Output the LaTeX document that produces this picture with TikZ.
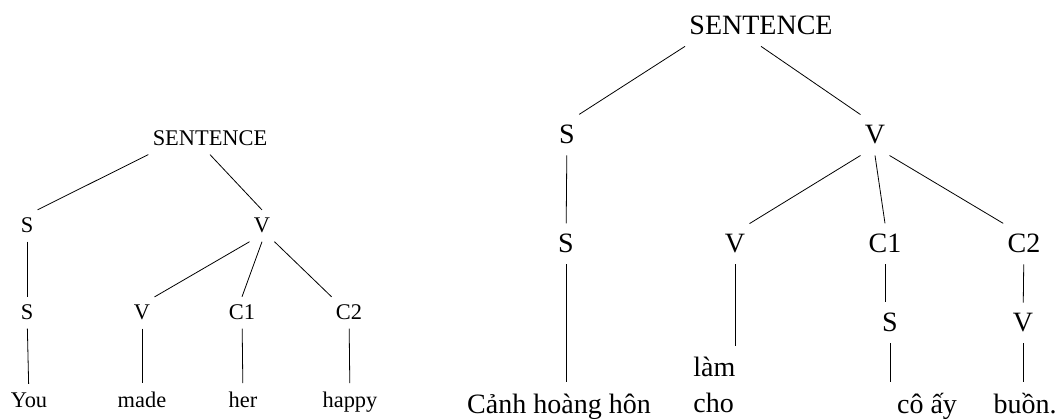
\documentclass[tikz,border=0pt]{standalone}
\usepackage{fontspec}
\setmainfont{Liberation Serif}
\begin{document}
\begin{tikzpicture}[x=0.75pt,y=-0.75pt,line width=0.6pt,
  small/.style={font=\fontsize{16.8}{20}\selectfont,anchor=base,inner xsep=3pt,inner ysep=6pt},
  big/.style={font=\fontsize{21}{27}\selectfont,anchor=base,inner xsep=3pt,inner ysep=8pt}]
\useasboundingbox (0,0) rectangle (1057,420);
% English tree
\node[small] (lsent) at (210,146) {SENTENCE};
\node[small] (ls1) at (27,233) {S};
\node[small] (lv1) at (262,233) {V};
\node[small] (ls2) at (27,320) {S};
\node[small] (lv2) at (142,320) {V};
\node[small] (lc1) at (242,320) {C1};
\node[small] (lc2) at (349,320) {C2};
\node[small] (you) at (29,407) {You};
\node[small] (made) at (142,407) {made};
\node[small] (her) at (243,407) {her};
\node[small] (happy) at (350,407) {happy};
\draw (lsent.south west) -- (ls1.north east);
\draw (lsent.south) -- (lv1.north);
\draw (ls1) -- (ls2);
\draw (lv1.south west) -- (lv2.north east);
\draw (lv1.south) -- (lc1.north);
\draw (lv1.south east) -- (lc2.north west);
\draw (ls2) -- (you);
\draw (lv2) -- (made);
\draw (lc1) -- (her);
\draw (lc2) -- (happy);
% Vietnamese tree
\node[big] (rsent) at (761,35) {SENTENCE};
\node[big] (rs1) at (567,144) {S};
\node[big] (rv1) at (875,144) {V};
\node[big] (rs2) at (566,253) {S};
\node[big] (rv2) at (735,253) {V};
\node[big] (rc1) at (885,253) {C1};
\node[big] (rc2) at (1024,253) {C2};
\node[big] (rs3) at (890,332) {S};
\node[big] (rv3) at (1023,332) {V};
\node[big] (canh) at (559,413) {Cảnh hoàng hôn};
\node[big,align=left,anchor=south west] (lamcho) at (689,424) {làm\\cho};
\node[big] (coay) at (927,413) {cô ấy};
\node[big] (buon) at (1025,413) {buồn.};
\draw (rsent.south west) -- (rs1.north east);
\draw (rsent.south) -- (rv1.north west);
\draw (rs1) -- (rs2);
\draw (rv1.south west) -- (rv2.north east);
\draw (rv1.south) -- (rc1.north);
\draw (rv1.south east) -- (rc2.north west);
\draw (rs2.south) -- (rs2.south |- canh.north);
\draw (rv2.south) -- (rv2.south |- lamcho.north);
\draw (rc1.south) -- (rc1.south |- rs3.north);
\draw (rc2) -- (rv3);
\draw (rs3.south) -- (rs3.south |- coay.north);
\draw (rv3.south) -- (rv3.south |- buon.north);
\end{tikzpicture}
\end{document}
